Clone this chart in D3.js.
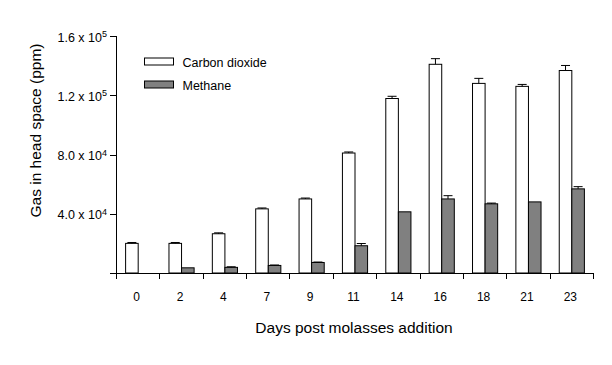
<!DOCTYPE html>
<html>
<head>
    <title>Gas in head space</title>
    <script src="https://d3js.org/d3.v7.min.js"></script>
    <style>
        body {
            margin: 0;
            padding: 0;
            background: #fff;
            font-family: "Liberation Sans", Arial, sans-serif;
        }
        .axis path, .axis line {
            stroke: #000;
            stroke-width: 1;
            shape-rendering: crispEdges;
        }
        .bar {
            stroke: #000;
            stroke-width: 1;
        }
        .err {
            stroke: #000;
            stroke-width: 1;
            fill: none;
        }
    </style>
</head>
<body>
    <div id="chart"></div>
    <script>
        // Data
        const days = ["0", "2", "4", "7", "9", "11", "14", "16", "18", "21", "23"];
        const co2 = [20000, 20000, 26500, 43300, 50000, 81000, 117800, 140900, 128000, 126000, 136700];
        const co2Err = [600, 600, 600, 600, 600, 700, 1500, 3800, 3400, 1300, 3400];
        const ch4 = [0, 3500, 3800, 5100, 7100, 18400, 41300, 50000, 46700, 48000, 56800];
        const ch4Err = [0, 0, 400, 300, 300, 1500, 0, 2200, 500, 0, 1500];
        const series = ["Carbon dioxide", "Methane"];
        const fills = ["#ffffff", "#808080"];
        const yTicks = [0, 40000, 80000, 120000, 160000];

        const width = 612, height = 365;
        const margin = { top: 36, right: 19, bottom: 92, left: 116 };

        const svg = d3.select("#chart")
            .append("svg")
            .attr("width", width)
            .attr("height", height);

        const x0 = d3.scaleBand()
            .domain(days)
            .range([margin.left, width - margin.right])
            .paddingInner(0.42)
            .paddingOuter(0.21);

        const x1 = d3.scaleBand()
            .domain(series)
            .range([0, x0.bandwidth()]);

        const y = d3.scaleLinear()
            .domain([0, 160000])
            .range([height - margin.bottom, margin.top]);

        // bars + error bars
        const rows = days.map((d, i) => ({
            day: d,
            vals: [
                { s: series[0], v: co2[i], e: co2Err[i], f: fills[0] },
                { s: series[1], v: ch4[i], e: ch4Err[i], f: fills[1] }
            ]
        }));

        const groups = svg.append("g")
            .selectAll("g")
            .data(rows)
            .enter()
            .append("g")
            .attr("transform", d => `translate(${x0(d.day)},0)`);

        const cells = groups.selectAll("g")
            .data(d => d.vals.filter(v => v.v > 0))
            .enter()
            .append("g");

        cells.append("rect")
            .attr("class", "bar")
            .attr("x", d => x1(d.s) + 0.5)
            .attr("y", d => y(d.v))
            .attr("width", x1.bandwidth())
            .attr("height", d => y(0) - y(d.v))
            .attr("fill", d => d.f);

        const errs = cells.filter(d => d.e > 0);
        errs.append("line")
            .attr("class", "err")
            .attr("x1", d => x1(d.s) + x1.bandwidth() / 2 + 0.5)
            .attr("x2", d => x1(d.s) + x1.bandwidth() / 2 + 0.5)
            .attr("y1", d => y(d.v))
            .attr("y2", d => y(d.v + d.e));
        errs.append("line")
            .attr("class", "err")
            .attr("x1", d => x1(d.s) + x1.bandwidth() / 2 - 4)
            .attr("x2", d => x1(d.s) + x1.bandwidth() / 2 + 5)
            .attr("y1", d => y(d.v + d.e))
            .attr("y2", d => y(d.v + d.e));

        // y axis
        const yAxis = svg.append("g")
            .attr("class", "axis")
            .attr("transform", `translate(${margin.left},0)`)
            .call(d3.axisLeft(y).tickValues(yTicks).tickSize(6).tickFormat(""));
        yAxis.select(".domain").attr("d", `M-6,${y(160000)}H0V${y(0)}`);

        const yLabels = svg.append("g")
            .selectAll("text")
            .data(yTicks.filter(t => t > 0))
            .enter()
            .append("text")
            .attr("x", margin.left - 9)
            .attr("y", d => y(d) + 5.5)
            .attr("text-anchor", "end")
            .style("font-size", "12.5px");
        yLabels.append("tspan")
            .text(d => {
                const [m, e] = d.toExponential(1).split("e");
                return m + " x 10";
            });
        yLabels.append("tspan")
            .attr("dy", -4.5)
            .style("font-size", "9px")
            .text(d => +d.toExponential(1).split("e")[1]);

        // x axis
        const step = x0.step();
        const xTickPos = d3.range(days.length + 1).map(i => margin.left + i * step);
        const xAxis = svg.append("g")
            .attr("class", "axis")
            .attr("transform", `translate(0,${y(0)})`);
        xAxis.append("path")
            .attr("d", `M${margin.left},0H${width - margin.right}`);
        xAxis.selectAll("line")
            .data(xTickPos)
            .enter()
            .append("line")
            .attr("x1", d => Math.round(d) + 0.5)
            .attr("x2", d => Math.round(d) + 0.5)
            .attr("y1", 0)
            .attr("y2", 6);
        xAxis.selectAll("text")
            .data(days)
            .enter()
            .append("text")
            .attr("x", d => x0(d) + x0.bandwidth() / 2 - 1)
            .attr("y", 27.5)
            .attr("text-anchor", "middle")
            .style("font-size", "12px")
            .text(d => d);

        // axis titles
        svg.append("text")
            .attr("x", 354)
            .attr("y", 333)
            .attr("text-anchor", "middle")
            .style("font-size", "15.5px")
            .text("Days post molasses addition");

        svg.append("text")
            .attr("transform", `translate(41,130.5) rotate(-90)`)
            .attr("text-anchor", "middle")
            .style("font-size", "15.5px")
            .text("Gas in head space (ppm)");

        // legend
        const legend = svg.append("g")
            .selectAll("g")
            .data(series)
            .enter()
            .append("g")
            .attr("transform", (d, i) => `translate(144.5,${58 + i * 23})`);
        legend.append("rect")
            .attr("class", "bar")
            .attr("width", 29)
            .attr("height", 7)
            .attr("fill", (d, i) => fills[i]);
        legend.append("text")
            .attr("x", 38)
            .attr("y", 8.5)
            .style("font-size", "12.5px")
            .text(d => d);
    </script>
</body>
</html>
